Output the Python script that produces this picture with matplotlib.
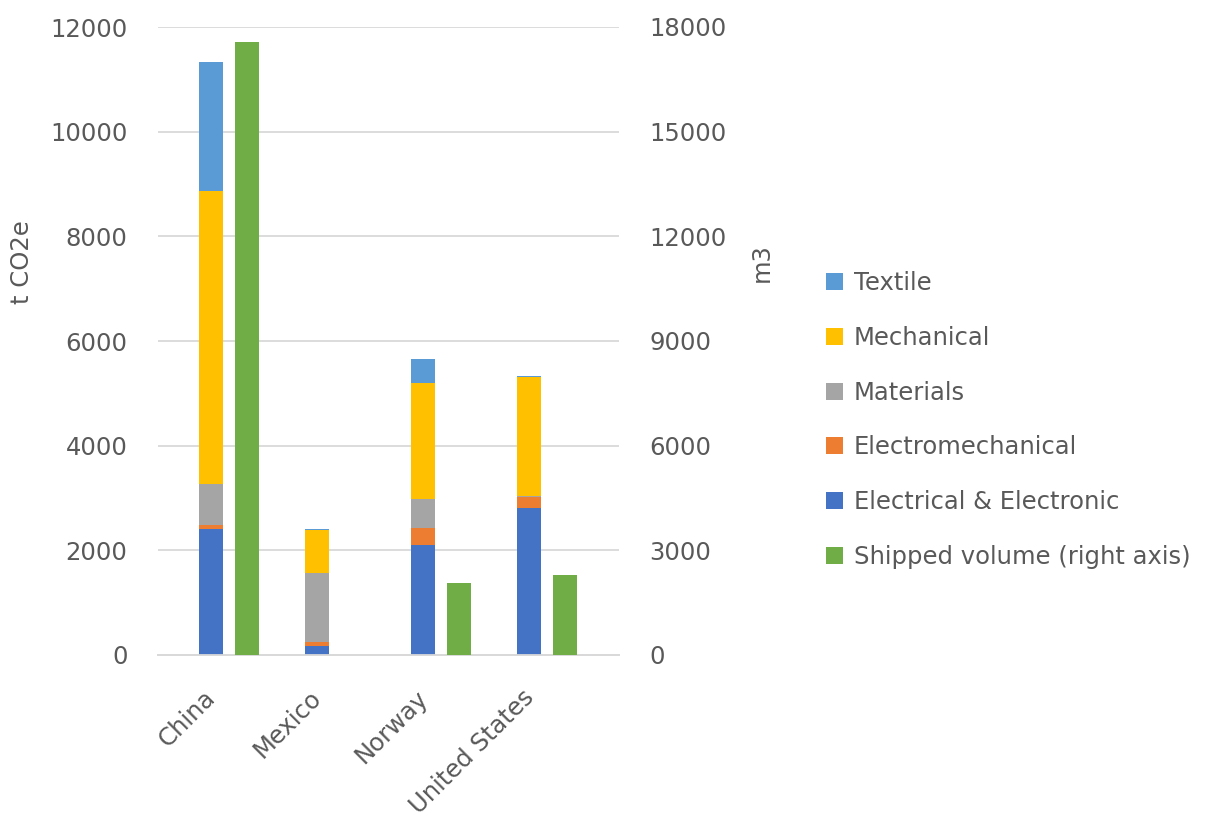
import matplotlib
matplotlib.use('Agg')
import matplotlib.pyplot as plt
import numpy as np

plt.rcParams['font.family'] = 'DejaVu Sans'

# Datos
countries = ['China', 'Mexico', 'Norway', 'United States']
electrical = [2410, 180, 2105, 2800]
electromech = [80, 70, 320, 215]
materials = [780, 1325, 565, 25]
mechanical = [5590, 805, 2210, 2265]
textile = [2470, 27, 465, 30]
shipped = [17570, 0, 2055, 2280]

text_col = '#595959'
grid_col = '#D9D9D9'
fs = 17.5

fig = plt.figure(figsize=(12.17, 8.21), dpi=100, facecolor='white')
ax = fig.add_axes([158/1217, 1 - 655/821, (619-158)/1217, (655-27)/821])
ax2 = ax.twinx()

x = np.arange(len(countries))
w = 0.226
off = 0.34

series = [
    ('Electrical & Electronic', electrical, '#4472C4'),
    ('Electromechanical', electromech, '#ED7D31'),
    ('Materials', materials, '#A5A5A5'),
    ('Mechanical', mechanical, '#FFC000'),
    ('Textile', textile, '#5B9BD5'),
]
bottom = np.zeros(len(countries))
handles = {}
for name, vals, col in series:
    b = ax.bar(x, vals, w, bottom=bottom, color=col, label=name, zorder=3)
    handles[name] = b
    bottom += np.array(vals)

sx = [xi + off for xi, v in zip(x, shipped) if v > 0]
sv = [v for v in shipped if v > 0]
g = ax2.bar(sx, sv, w, color='#70AD47', label='Shipped volume (right axis)', zorder=3)

ax.set_xlim(-0.5, (619 - 211) / 106)
ax.set_ylim(0, 12000)
ax2.set_ylim(0, 18000)
ax.set_yticks(range(0, 12001, 2000))
ax2.set_yticks(range(0, 18001, 3000))

ax.grid(axis='y', color=grid_col, lw=1.3, zorder=0)
ax.set_axisbelow(True)
for a in (ax, ax2):
    for s in ['top', 'left', 'right']:
        a.spines[s].set_visible(False)
    a.spines['bottom'].set_color(grid_col)
    a.spines['bottom'].set_linewidth(1.3)
    a.tick_params(length=0, labelsize=fs, colors=text_col, pad=22)

ax.set_xticks(x - 0.07)
ax.set_xticklabels(countries, rotation=45, ha='right', rotation_mode='anchor')
ax.tick_params(axis='x', pad=22)

ax.set_ylabel('t CO2e', fontsize=fs, color=text_col)
ax.yaxis.set_label_coords(-0.268, 0.625)
ax2.set_ylabel('m3', fontsize=fs, color=text_col)
ax2.yaxis.set_label_coords(1.283, 0.625)

order = ['Textile', 'Mechanical', 'Materials', 'Electromechanical', 'Electrical & Electronic']
hs = [handles[n] for n in order] + [g]
labels = order + ['Shipped volume (right axis)']
fig.legend(hs, labels, loc='center left', bbox_to_anchor=(804/1217, 1 - 420/821),
           frameon=False, fontsize=fs, labelcolor=text_col, handlelength=0.7,
           handleheight=0.7, handletextpad=0.45, labelspacing=1.27)

fig.savefig('out.png', dpi=100, facecolor='white')
